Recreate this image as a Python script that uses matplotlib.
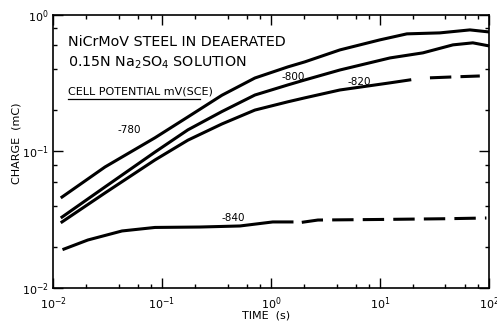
import numpy as np
import matplotlib
matplotlib.use("Agg")
import matplotlib.pyplot as plt
from matplotlib.ticker import LogLocator, NullFormatter

# cell potential curves, charge (mC) vs time (s)
t_780 = [0.0121, 0.030, 0.0863, 0.173, 0.355, 0.713, 1.43, 2.05, 4.3, 10, 17.7, 35.5, 67, 100]
q_780 = [0.0464, 0.077, 0.126, 0.179, 0.258, 0.345, 0.416, 0.453, 0.554, 0.656, 0.726, 0.738, 0.776, 0.75]

t_800 = [0.0121, 0.030, 0.0863, 0.173, 0.355, 0.713, 1.43, 2.05, 4.3, 12.4, 24.8, 46.8, 71.3, 100]
q_800 = [0.0331, 0.055, 0.099, 0.144, 0.196, 0.259, 0.307, 0.334, 0.395, 0.484, 0.527, 0.603, 0.624, 0.593]

t_820 = [0.0121, 0.030, 0.0863, 0.173, 0.355, 0.713, 1.43, 2.05, 4.3, 12.4, 18.8]
q_820 = [0.0305, 0.0497, 0.0867, 0.121, 0.159, 0.201, 0.231, 0.247, 0.282, 0.318, 0.334]
t_820_dash = [28.8, 50, 82.6]
q_820_dash = [0.346, 0.352, 0.357]

t_840 = [0.0126, 0.0209, 0.043, 0.0863, 0.223, 0.52, 1.04, 1.56]
q_840 = [0.0193, 0.0225, 0.0262, 0.0278, 0.028, 0.0285, 0.0305, 0.0305]
t_840_dash = [1.92, 2.7, 10, 40, 95]
q_840_dash = [0.0303, 0.0315, 0.0318, 0.0322, 0.0326]

labels = ["-780", "-800", "-820", "-840"]
label_pos = [(0.0394, 0.144), (1.26, 0.351), (5.08, 0.323), (0.355, 0.0326)]

plt.rcParams['font.family'] = ['DejaVu Sans']

fig = plt.figure(figsize=(4.97, 3.23), dpi=100)
ax = fig.add_axes([0.1066, 0.108, 0.877, 0.846])

lw = 2.2
ax.plot(t_780, q_780, 'k-', lw=lw)
ax.plot(t_800, q_800, 'k-', lw=lw)
ax.plot(t_820, q_820, 'k-', lw=lw)
ax.plot(t_820_dash, q_820_dash, 'k', lw=lw, linestyle=(0, (7, 3)))
ax.plot(t_840, q_840, 'k-', lw=lw)
ax.plot(t_840_dash, q_840_dash, 'k', lw=lw, linestyle=(0, (7, 3)))

for lab, (x, y) in zip(labels, label_pos):
    ax.text(x, y, lab, fontsize=7.5, ha='left', va='center')

ax.set_xscale('log')
ax.set_yscale('log')
ax.set_xlim(1e-2, 1e2)
ax.set_ylim(1e-2, 1e0)

for a in (ax.xaxis, ax.yaxis):
    a.set_major_locator(LogLocator(base=10, numticks=10))
    a.set_minor_locator(LogLocator(base=10, subs=[2, 4, 6, 8], numticks=10))
    a.set_minor_formatter(NullFormatter())
ax.tick_params(which='both', direction='in', top=True, right=True, width=1.0)
ax.tick_params(which='major', length=7, labelsize=8)
ax.tick_params(axis='x', which='major', pad=5)
ax.tick_params(axis='y', which='major', pad=3)
ax.tick_params(which='minor', length=3)
for s in ax.spines.values():
    s.set_linewidth(1.2)

ax.set_xlabel('TIME  (s)', fontsize=8, va='center')
ax.xaxis.set_label_coords(0.49, -0.102)
ax.set_ylabel('CHARGE  (mC)', fontsize=8, va='center')
ax.yaxis.set_label_coords(-0.083, 0.53)

ax.text(0.034, 0.927, 'NiCrMoV STEEL IN DEAERATED', transform=ax.transAxes,
        fontsize=10.3, va='top', ha='left')
ax.text(0.034, 0.853, '0.15N Na$_2$SO$_4$ SOLUTION', transform=ax.transAxes,
        fontsize=10.3, va='top', ha='left')
ax.text(0.034, 0.718, 'CELL POTENTIAL mV(SCE)', transform=ax.transAxes,
        fontsize=8, va='center', ha='left')
ax.plot([0.034, 0.337], [0.692, 0.692], 'k-', lw=0.9, transform=ax.transAxes)

fig.savefig('out.png', dpi=100)
